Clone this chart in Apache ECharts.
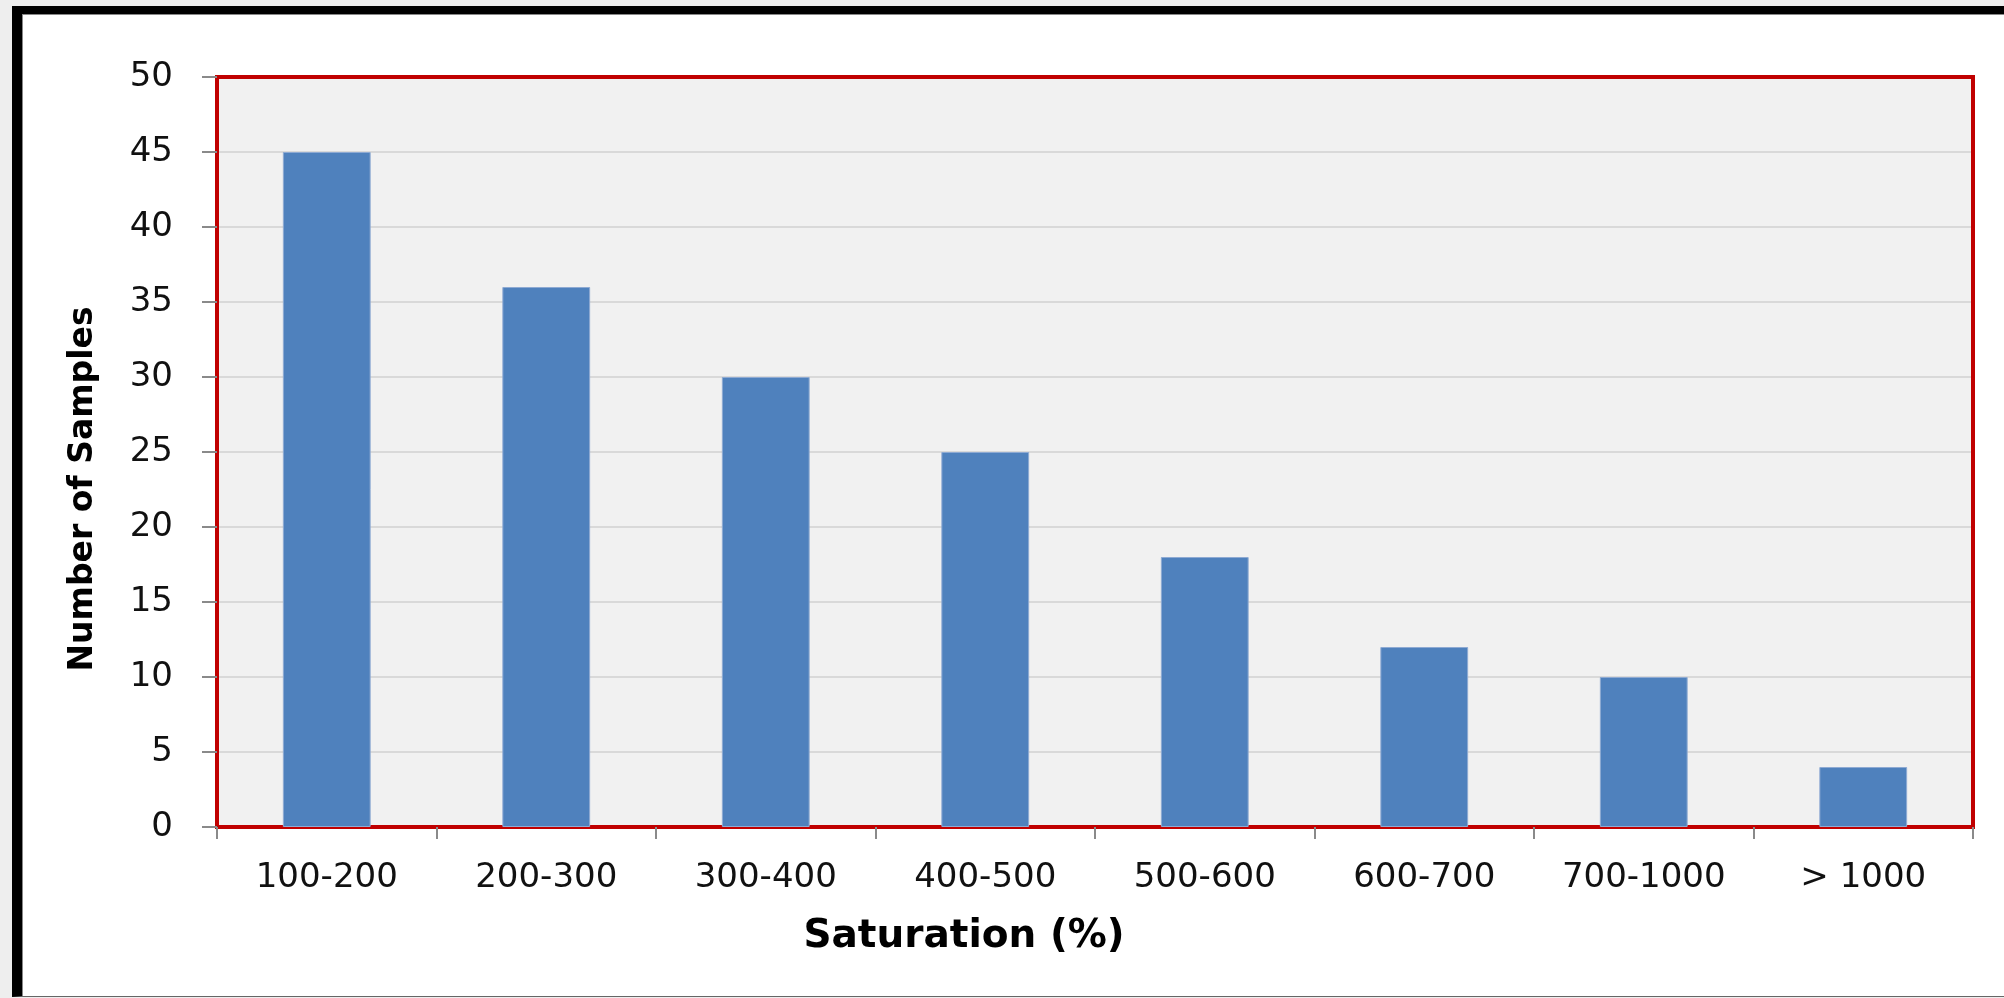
<!DOCTYPE html>
<html>
<head>
<meta charset="utf-8">
<title>Saturation distribution</title>
<script src="https://cdn.jsdelivr.net/npm/echarts@6/dist/echarts.min.js"></script>
<style>
  html, body { margin: 0; padding: 0; width: 2004px; height: 998px; background: #eeeeee; overflow: hidden; }
  #frame {
    position: absolute; left: 12px; top: 6px; width: 1982px; height: 982px;
    background: #ffffff;
    border-left: 10px solid #000; border-top: 8px solid #000; border-bottom: 1px solid #666;
    box-shadow: inset 1px 1px 0 #888;
  }
  #chart { position: absolute; left: 0; top: 0; width: 2004px; height: 998px; }
</style>
</head>
<body>
<div id="frame"></div>
<div id="chart"></div>
<script>
// Sample counts per saturation range
const categories = ['100-200', '200-300', '300-400', '400-500', '500-600', '600-700', '700-1000', '> 1000'];
const sampleCounts = [45, 36, 30, 25, 18, 12, 10, 4];
const yTicks = { min: 0, max: 50, interval: 5 };
const xTitle = 'Saturation (%)';
const yTitle = 'Number of Samples';

const chart = echarts.init(document.getElementById('chart'), null, { renderer: 'canvas' });

const font = 'DejaVu Sans, Verdana, sans-serif';
const frameRed = '#c00000';

chart.setOption({
  backgroundColor: 'transparent',
  animation: false,
  grid: {
    left: 217, top: 77, right: 31, bottom: 171,
    show: true,
    backgroundColor: '#f1f1f1',
    borderColor: frameRed,
    borderWidth: 4
  },
  xAxis: [
    {
      type: 'category',
      data: categories,
      boundaryGap: true,
      axisLine: { show: true, lineStyle: { color: frameRed, width: 3 } },
      axisTick: { show: true, length: 12, lineStyle: { color: '#8a8a8a', width: 2 } },
      axisLabel: { color: '#111', fontFamily: font, fontSize: 34, margin: 34 },
      splitLine: { show: false }
    },
    {
      // red frame edge along the top of the plot
      type: 'category',
      data: categories,
      position: 'top',
      axisLine: { show: true, lineStyle: { color: frameRed, width: 4 } },
      axisTick: { show: false },
      axisLabel: { show: false },
      splitLine: { show: false }
    }
  ],
  yAxis: [
    {
      type: 'value',
      min: yTicks.min, max: yTicks.max, interval: yTicks.interval,
      axisLine: { show: true, lineStyle: { color: frameRed, width: 3 } },
      axisTick: { show: true, length: 15, lineStyle: { color: '#8a8a8a', width: 2 } },
      axisLabel: { color: '#111', fontFamily: font, fontSize: 34, margin: 44 },
      splitLine: { show: true, showMaxLine: false, lineStyle: { color: '#d9d9d9', width: 2 } }
    },
    {
      // red frame edge along the right of the plot
      type: 'value',
      min: yTicks.min, max: yTicks.max, interval: yTicks.interval,
      position: 'right',
      axisLine: { show: true, lineStyle: { color: frameRed, width: 4 } },
      axisTick: { show: false },
      axisLabel: { show: false },
      splitLine: { show: false }
    }
  ],
  series: [{
    type: 'bar',
    data: sampleCounts,
    barWidth: '40%',
    itemStyle: { color: '#4f81bd', borderColor: '#8eaad3', borderWidth: 1 },
    z: 3
  }],
  graphic: [
    {
      type: 'text',
      x: 964, y: 937,
      style: {
        text: xTitle, fill: '#000', font: 'bold 39px ' + font,
        textAlign: 'center', textVerticalAlign: 'middle'
      }
    },
    {
      type: 'text',
      x: 83, y: 489,
      rotation: Math.PI / 2,
      style: {
        text: yTitle, fill: '#000', font: 'bold 33px ' + font,
        textAlign: 'center', textVerticalAlign: 'middle'
      }
    }
  ]
});
</script>
</body>
</html>
